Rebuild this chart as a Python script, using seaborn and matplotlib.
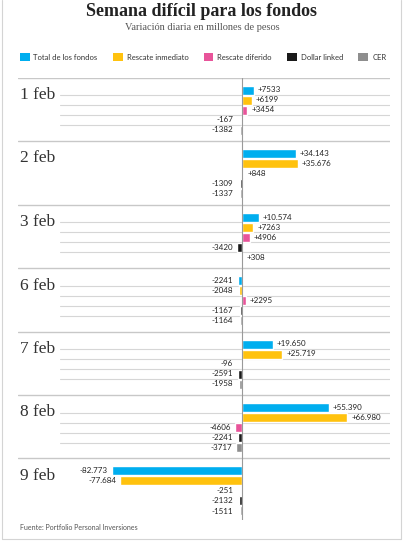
import numpy as np
import pandas as pd
import matplotlib
matplotlib.use("Agg")
import matplotlib.pyplot as plt
import matplotlib.transforms as mtransforms
from matplotlib.patches import Patch
from matplotlib.lines import Line2D
import seaborn as sns

# datos (millones de pesos)
dias = ["1 feb", "2 feb", "3 feb", "6 feb", "7 feb", "8 feb", "9 feb"]
series = ["Total de los fondos", "Rescate inmediato", "Rescate diferido", "Dollar linked", "CER"]
total = [7533, 34143, 10574, -2241, 19650, 55390, -82773]
inmediato = [6199, 35676, 7263, -2048, 25719, 66980, -77684]
diferido = [3454, 848, 4906, 2295, -96, -4606, -251]
dollar = [-167, -1309, -3420, -1167, -2591, -2241, -2132]
cer = [-1382, -1337, 308, -1164, -1958, -3717, -1511]
colores = ["#00AEEF", "#FFC20E", "#E8549A", "#1A1A1A", "#8E8E8E"]

sns.set_style("white")
plt.rcParams["font.family"] = ["Lato", "DejaVu Sans"]

paso = 6.35  # separacion entre grupos, en filas
filas = []
for g, dia in enumerate(dias):
    for i, (s, vals) in enumerate(zip(series, [total, inmediato, diferido, dollar, cer])):
        filas.append({"dia": dia, "serie": s, "valor": vals[g], "pos": g * paso + i})
df = pd.DataFrame(filas)

W, H = 404, 546
fig = plt.figure(figsize=(W / 100, H / 100), dpi=100)
fig.patch.set_facecolor("white")

# area de barras en pixeles: x 18..390, y 78..520
x0, x1, y0, y1 = 18, 390, 78, 520
ax = fig.add_axes([x0 / W, 1 - y1 / H, (x1 - x0) / W, (y1 - y0) / H])

sns.barplot(data=df, x="valor", y="pos", hue="serie", hue_order=series,
            palette=colores, orient="h", native_scale=True, dodge=False,
            errorbar=None, width=0.9, saturation=1, legend=False, ax=ax)

# grosor de barra fijo (0.9 fila)
alto = 0.9
for p in ax.patches:
    c = p.get_y() + p.get_height() / 2
    p.set_height(alto)
    p.set_y(c - alto / 2)

ppk = 1.57  # pixeles por cada 1000
ax.set_xlim(-(242 - x0) / ppk * 1000, (x1 - 242) / ppk * 1000)
ax.set_ylim((y1 - 90) / 10, (y0 - 90) / 10)
ax.axis("off")

# lineas de grupo y de filas
frac_fila = (60 - x0) / (x1 - x0)
for g in range(len(dias)):
    base = g * paso
    ax.axhline(base - 1.25, color="#c8c8c8", lw=1.0, zorder=0)
    if g not in (1, 6):
        for i in range(4):
            ax.axhline(base + i + 0.5, xmin=frac_fila, xmax=1, color="#d6d6d6", lw=0.8, zorder=0)
ax.axvline(0, color="#9a9a9a", lw=0.8, zorder=3)


def fmt(v):
    a = abs(v)
    s = f"{a:,}".replace(",", ".") if a >= 10000 else str(a)
    return ("+" if v > 0 else "-") + s


umbral = 3200
for _, r in df.iterrows():
    v = r["valor"]
    if v >= 0:
        ax.annotate(fmt(v), xy=(max(v, 0), r["pos"]), xytext=(4, 0), textcoords="offset pixels",
                    ha="left", va="center", fontsize=5.8, color="#222222")
    else:
        ax.annotate(fmt(v), xy=(min(v, -umbral), r["pos"]), xytext=(-4, 0), textcoords="offset pixels",
                    ha="right", va="center", fontsize=5.8, color="#222222")

# etiquetas de dias
tr = mtransforms.blended_transform_factory(fig.transFigure, ax.transData)
for g, dia in enumerate(dias):
    ax.text(20 / W, g * paso + 0.5, dia, transform=tr, ha="left", va="center",
            fontsize=12.5, family="Liberation Serif", color="#333333")

# titulos
fig.text(0.5, 1 - 11 / H, "Semana difícil para los fondos", ha="center", va="center",
         fontsize=13, fontweight="bold", family="Liberation Serif", color="#222222")
fig.text(0.5, 1 - 28 / H, "Variación diaria en millones de pesos", ha="center", va="center",
         fontsize=7.5, family="Liberation Serif", color="#555555")

# leyenda
handles = [Patch(facecolor=c, edgecolor="none", label=s) for s, c in zip(series, colores)]
fig.legend(handles=handles, loc="center", bbox_to_anchor=(203 / W, 1 - 57 / H), ncol=5,
           frameon=False, fontsize=5.5, handlelength=1.3, handleheight=1.2,
           handletextpad=0.5, columnspacing=2.0, labelcolor="#333333")

fig.text(20 / W, 1 - 527 / H, "Fuente: Portfolio Personal Inversiones", ha="left", va="center",
         fontsize=5, color="#555555")

# marco
for xs, ys in [([401 / W, 401 / W], [1, 1 - 539 / H]),
               ([2 / W, 401 / W], [1 - 539 / H, 1 - 539 / H]),
               ([2 / W, 2 / W], [1, 1 - 539 / H])]:
    fig.add_artist(Line2D(xs, ys, transform=fig.transFigure, color="#d4d4d4", lw=0.8))

fig.savefig("out.png", dpi=100)
